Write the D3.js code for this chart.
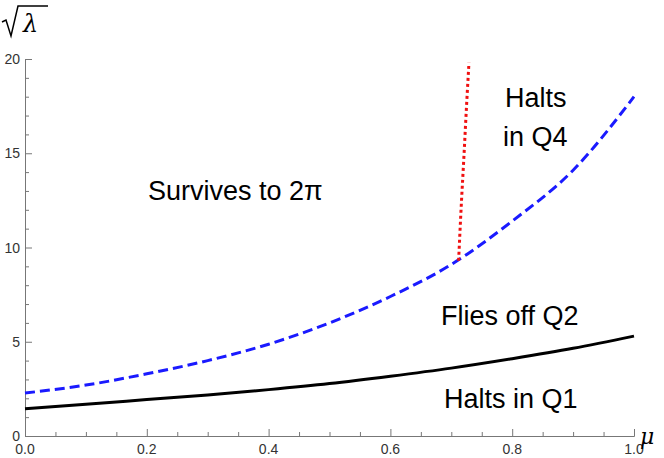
<!DOCTYPE html>
<html><head><meta charset="utf-8">
<script src="https://cdn.jsdelivr.net/npm/d3@7"></script>
<style>body{margin:0;background:#fff;font-family:"Liberation Sans",Arial,sans-serif}</style>
</head><body><div id="chart"></div>
<script>
const muVals = [0, 0.1, 0.2, 0.3, 0.4, 0.5, 0.6, 0.7, 0.8, 0.9, 1.0];
const blackVals = [1.45, 1.68, 1.93, 2.18, 2.46, 2.78, 3.17, 3.6, 4.1, 4.65, 5.3];
const blueVals = [2.28, 2.7, 3.3, 4.0, 4.87, 6.0, 7.4, 9.1, 11.4, 14.1, 18.0];
const redMu = [0.712, 0.716, 0.721, 0.725, 0.729];
const redVals = [9.3, 12, 15, 17.5, 19.8];
const xTicks = [0, 0.2, 0.4, 0.6, 0.8, 1.0];
const yTicks = [0, 5, 10, 15, 20];
const regionLabels = [
  {t: "Survives to 2\u03c0", x: 148, y: 200},
  {t: "Halts", x: 505, y: 107},
  {t: "in Q4", x: 503, y: 146},
  {t: "Flies off Q2", x: 441, y: 325},
  {t: "Halts in Q1", x: 444, y: 408}
];

const W = 664, H = 458;
const x = d3.scaleLinear().domain([0, 1]).range([25, 634]);
const y = d3.scaleLinear().domain([0, 20]).range([436, 59]);

const svg = d3.select("#chart").append("svg").attr("width", W).attr("height", H);

// axes
const gx = svg.append("g").attr("transform", "translate(0,436)");
gx.call(d3.axisBottom(x).tickValues(d3.range(0, 1.0001, 0.05)).tickSize(-4).tickFormat(""));
gx.call(g => g.selectAll(".tick line").filter(d => Math.abs(d * 5 - Math.round(d * 5)) < 1e-6).attr("y2", -7));

const gy = svg.append("g").attr("transform", "translate(25,0)");
gy.call(d3.axisLeft(y).tickValues(d3.range(0, 21, 1)).tickSize(-4).tickFormat(""));
gy.call(g => g.selectAll(".tick line").filter(d => d % 5 === 0).attr("x2", 7));
svg.selectAll(".domain, .tick line").attr("stroke", "#777");

svg.selectAll(".xl").data(xTicks).enter().append("text")
  .attr("x", d => x(d)).attr("y", 454).attr("text-anchor", "middle")
  .style("font-size", "14px").attr("fill", "#333").text(d => d.toFixed(1));
svg.selectAll(".yl").data(yTicks).enter().append("text")
  .attr("x", 20).attr("y", d => y(d) + 5).attr("text-anchor", "end")
  .style("font-size", "14px").attr("fill", "#333").text(d => d);

const line = d3.line().x(d => x(d[0])).y(d => y(d[1])).curve(d3.curveMonotoneX);

svg.append("path").datum(muVals.map((m, i) => [m, blackVals[i]]))
  .attr("d", line).attr("fill", "none").attr("stroke", "#000").attr("stroke-width", 3);
svg.append("path").datum(muVals.map((m, i) => [m, blueVals[i]]))
  .attr("d", line).attr("fill", "none").attr("stroke", "#1a1aff").attr("stroke-width", 3)
  .attr("stroke-dasharray", "10,5");
svg.append("path").datum(redMu.map((m, i) => [m, redVals[i]]))
  .attr("d", d3.line().x(d => x(d[0])).y(d => y(d[1])).curve(d3.curveMonotoneY))
  .attr("fill", "none").attr("stroke", "#f01010").attr("stroke-width", 3).attr("stroke-dasharray", "3,3");

svg.selectAll(".rl").data(regionLabels).enter().append("text")
  .attr("x", d => d.x).attr("y", d => d.y).style("font-size", "27px").attr("fill", "#000").text(d => d.t);

// axis labels
svg.append("text").attr("x", 640).attr("y", 444).style("font-size", "22px").attr("font-style", "italic")
  .attr("font-family", "DejaVu Serif").text("\u03bc");
svg.append("path").attr("d", "M2,22 L6,20 L11,36 L18,6 L48,6").attr("fill", "none").attr("stroke", "#000").attr("stroke-width", 1.5);
svg.append("text").attr("x", 23).attr("y", 32).style("font-size", "24px").attr("font-style", "italic")
  .attr("font-family", "DejaVu Serif").text("\u03bb");
</script></body></html>
